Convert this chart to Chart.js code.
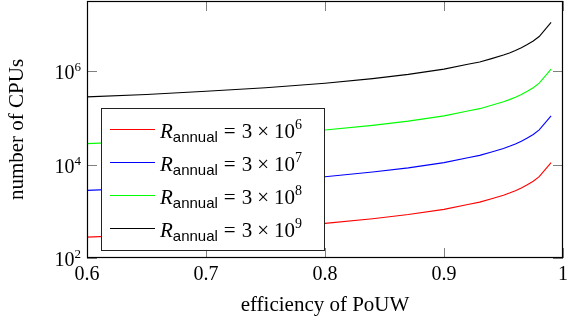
<!DOCTYPE html>
<html><head><meta charset="utf-8">
<script src="https://cdn.jsdelivr.net/npm/chart.js@4.4.1/dist/chart.umd.min.js"></script>
<style>html,body{margin:0;padding:0;background:#fff}#wrap{width:573px;height:325px}</style>
</head><body><div id="wrap"><canvas id="c" width="573" height="325"></canvas></div>
<script>
// ---- data ----
const efficiency = [0.60, 0.65, 0.70, 0.75, 0.80, 0.84, 0.87, 0.90, 0.92, 0.93, 0.94, 0.95, 0.955, 0.96, 0.965, 0.97, 0.975, 0.98, 0.99];
const cpusR3e6 = [280, 315, 370, 440, 550, 690, 850, 1100, 1400, 1570, 1850, 2200, 2450, 2750, 3150, 3700, 4400, 5500, 11000];
const cpusR3e7 = [2800, 3150, 3700, 4400, 5500, 6900, 8500, 11000, 14000, 15700, 18500, 22000, 24500, 27500, 31500, 37000, 44000, 55000, 110000];
const cpusR3e8 = [28000, 31500, 37000, 44000, 55000, 69000, 85000, 110000, 140000, 157000, 185000, 220000, 245000, 275000, 315000, 370000, 440000, 550000, 1100000];
const cpusR3e9 = [280000, 315000, 370000, 440000, 550000, 690000, 850000, 1100000, 1400000, 1570000, 1850000, 2200000, 2450000, 2750000, 3150000, 3700000, 4400000, 5500000, 11000000];
const seriesExponents = ['6', '7', '8', '9'];
const seriesColors = ['#ff0000', '#0000ff', '#00ff00', '#000000'];
const xTickValues = [0.6, 0.7, 0.8, 0.9, 1];
const yTickValues = [1e2, 1e4, 1e6];
const yTickExponents = ['2', '4', '6'];
const xTitle = 'efficiency of PoUW';
const yTitle = 'number of CPUs';

const SERIF = '"Liberation Serif", "Times New Roman", serif';
const SANS = '"Liberation Sans", Arial, sans-serif';
const allSeries = [cpusR3e6, cpusR3e7, cpusR3e8, cpusR3e9];

const datasets = allSeries.map((arr, i) => ({
  label: 'R_annual = 3 × 10^' + seriesExponents[i],
  data: efficiency.map((e, k) => ({x: e, y: arr[k]})),
  borderColor: seriesColors[i],
  borderWidth: 1.1,
  pointRadius: 0,
  tension: 0,
  fill: false
}));

const TL = 10;
const decor = {
  id: 'decor',
  afterDatasetsDraw(chart) {
    const ctx = chart.ctx;
    const {left, right, top, bottom} = chart.chartArea;
    const xs = chart.scales.x, ys = chart.scales.y;
    ctx.save();
    // inward ticks
    ctx.strokeStyle = '#808080';
    ctx.lineWidth = 1;
    ctx.beginPath();
    xTickValues.forEach(v => {
      const px = Math.round(xs.getPixelForValue(v)) + 0.5;
      ctx.moveTo(px, bottom); ctx.lineTo(px, bottom - TL);
      ctx.moveTo(px, top); ctx.lineTo(px, top + TL);
    });
    yTickValues.forEach(v => {
      const py = Math.round(ys.getPixelForValue(v)) + 0.5;
      ctx.moveTo(left, py); ctx.lineTo(left + TL, py);
      ctx.moveTo(right, py); ctx.lineTo(right - TL, py);
    });
    ctx.stroke();
    // y tick labels 10^n
    ctx.fillStyle = '#000';
    ctx.textBaseline = 'alphabetic';
    yTickValues.forEach((v, i) => {
      const py = ys.getPixelForValue(v);
      ctx.font = '13px ' + SERIF;
      const wSup = ctx.measureText(yTickExponents[i]).width;
      ctx.font = '20px ' + SERIF;
      const wBase = ctx.measureText('10').width;
      const xr = left - 6;
      const base = py + 8;
      ctx.textAlign = 'left';
      ctx.fillText('10', xr - wSup - wBase, base);
      ctx.font = '13px ' + SERIF;
      ctx.fillText(yTickExponents[i], xr - wSup, base - 8);
    });
    // legend
    const lx0 = left + 14, ly0 = top + 107, lx1 = left + 237, ly1 = top + 249;
    ctx.fillStyle = '#fff';
    ctx.fillRect(lx0, ly0, lx1 - lx0, ly1 - ly0);
    ctx.strokeStyle = '#222';
    ctx.lineWidth = 1;
    ctx.strokeRect(lx0 + 0.5, ly0 + 0.5, lx1 - lx0, ly1 - ly0);
    const rowY = [ly0 + 21, ly0 + 54, ly0 + 87, ly0 + 120];
    seriesExponents.forEach((ex, i) => {
      const y = rowY[i];
      ctx.strokeStyle = seriesColors[i];
      ctx.lineWidth = 1.1;
      ctx.beginPath();
      ctx.moveTo(lx0 + 9, y + 0.5); ctx.lineTo(lx0 + 54, y + 0.5);
      ctx.stroke();
      ctx.fillStyle = '#000';
      ctx.textAlign = 'left';
      let x = lx0 + 59;
      const b = y + 9;
      ctx.font = 'italic 21px ' + SERIF;
      ctx.fillText('R', x, b); x += ctx.measureText('R').width;
      ctx.font = '15px ' + SANS;
      ctx.fillText('annual', x, b + 4); x += ctx.measureText('annual').width + 6;
      ctx.font = '21px ' + SERIF;
      ctx.fillText('=', x, b); x += ctx.measureText('=').width + 6;
      ctx.fillText('3', x, b); x += ctx.measureText('3').width + 5;
      ctx.fillText('×', x, b); x += ctx.measureText('×').width + 5;
      ctx.fillText('10', x, b); x += ctx.measureText('10').width;
      ctx.font = '14px ' + SERIF;
      ctx.fillText(ex, x, b - 9);
    });
    // frame
    ctx.strokeStyle = '#000';
    ctx.lineWidth = 1.2;
    ctx.strokeRect(left + 0.5, top + 0.5, right - left - 1, bottom - top - 1);
    ctx.restore();
  }
};

new Chart(document.getElementById('c'), {
  type: 'line',
  data: {datasets},
  options: {
    responsive: false,
    devicePixelRatio: 1,
    animation: false,
    layout: {padding: {top: 1, right: 6, left: 0, bottom: 0}},
    plugins: {legend: {display: false}, tooltip: {enabled: false}},
    scales: {
      x: {
        type: 'linear', min: 0.6, max: 1,
        afterBuildTicks: s => { s.ticks = xTickValues.map(v => ({value: v})); },
        ticks: {color: '#000', font: {family: SERIF, size: 20}, padding: 5,
                callback: v => String(Math.round(v * 10) / 10)},
        grid: {display: false, drawTicks: false},
        border: {display: false},
        title: {display: true, text: xTitle, color: '#000', font: {family: SERIF, size: 21}, padding: {top: 0, bottom: 7}},
        afterFit: s => { s.height = 67; }
      },
      y: {
        type: 'logarithmic', min: 100, max: 31622777,
        afterBuildTicks: s => { s.ticks = yTickValues.map(v => ({value: v})); },
        ticks: {display: false},
        grid: {display: false, drawTicks: false},
        border: {display: false},
        title: {display: true, text: yTitle, color: '#000', font: {family: SERIF, size: 21}, padding: {top: 5, bottom: 0}},
        afterFit: s => { s.width = 87; }
      }
    }
  },
  plugins: [decor]
});
</script></body></html>
